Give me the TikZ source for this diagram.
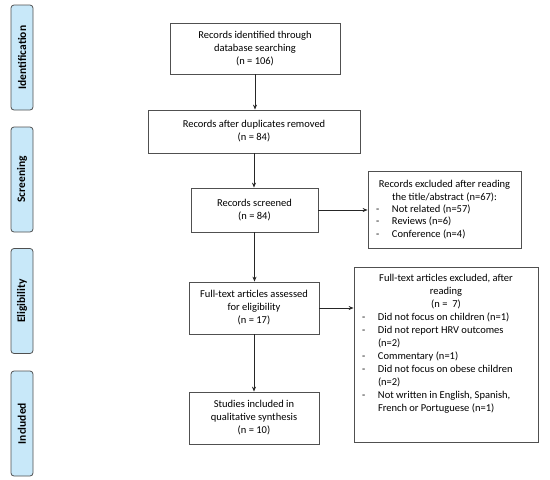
\documentclass[tikz,border=0pt]{standalone}
\usepackage{fontspec}
\setmainfont{Carlito}
\usetikzlibrary{positioning, arrows.meta}
\definecolor{pillblue}{RGB}{200,232,249}
\definecolor{linegray}{RGB}{80,80,80}
\newcommand{\dashitem}[1]{\par\noindent\hangindent=16pt\makebox[16pt][l]{-}#1}
\begin{document}
\begin{tikzpicture}[x=1pt, y=-1pt, font=\fontsize{10.5}{13}\selectfont,
    box/.style={rectangle, draw=linegray, line width=0.8pt, align=center, inner sep=2pt},
    pill/.style={rectangle, rounded corners=3pt, draw=linegray, line width=0.8pt, fill=pillblue, minimum width=105pt, minimum height=22pt, rotate=90, font=\fontsize{11.5}{13}\bfseries},
    arr/.style={-{Stealth[length=5pt, width=4pt]}, line width=0.8pt, draw=black!85}]
  \useasboundingbox (0,0) rectangle (550,480);
  \node[pill] (ident) at (22,57.5) {Identification};
  \node[pill] (screen) at (22,179.5) {Screening};
  \node[pill] (elig) at (22,301) {Eligibility};
  \node[pill] (incl) at (22,423.5) {Included};

  \node[box, minimum width=170pt, minimum height=51pt] (found) at (255,48.5) {Records identified through\\ database searching\\ (n = 106)};
  \node[box, minimum width=212pt, minimum height=43pt] (dup) at (254,131.5) {Records after duplicates removed\\ (n = 84)};
  \node[box, minimum width=127pt, minimum height=44pt] (screened) at (254.5,210) {Records screened\\ (n = 84)};
  \node[box, minimum width=130pt, minimum height=52pt] (fulltext) at (254,308) {Full-text articles assessed\\ for eligibility\\ (n = 17)};
  \node[box, minimum width=130pt, minimum height=52pt] (studies) at (254,418) {Studies included in\\ qualitative synthesis\\ (n = 10)};

  \node[box, minimum height=77pt, inner xsep=8pt] (excl) at (444.5,209.5) {\parbox{137pt}{\fontsize{10.5}{12.4}\selectfont{\centering Records excluded after reading\\ the title/abstract (n=67):\par}
    \dashitem{Not related (n=57)}
    \dashitem{Reviews (n=6)}
    \dashitem{Conference (n=4)}}};
  \node[box, inner xsep=8pt, inner ysep=7pt] (exclfull) at (446,354.5) {\parbox[c][161pt][t]{168pt}{{\centering Full-text articles excluded, after\\ reading\\ (n =~ 7)\par}
    \dashitem{Did not focus on children (n=1)}
    \dashitem{Did not report HRV outcomes\\ (n=2)}
    \dashitem{Commentary (n=1)}
    \dashitem{Did not focus on obese children\\ (n=2)}
    \dashitem{Not written in English, Spanish,\\ French or Portuguese (n=1)}}};

  \draw[arr] (found.south) -- (found.south |- dup.north);
  \draw[arr] (dup.south) -- (dup.south |- screened.north);
  \draw[arr] (screened.south) -- (screened.south |- fulltext.north);
  \draw[arr] (fulltext.south) -- (fulltext.south |- studies.north);
  \draw[arr] (screened.east) -- (screened.east -| excl.west);
  \draw[arr] (fulltext.east) -- (fulltext.east -| exclfull.west);
\end{tikzpicture}
\end{document}
